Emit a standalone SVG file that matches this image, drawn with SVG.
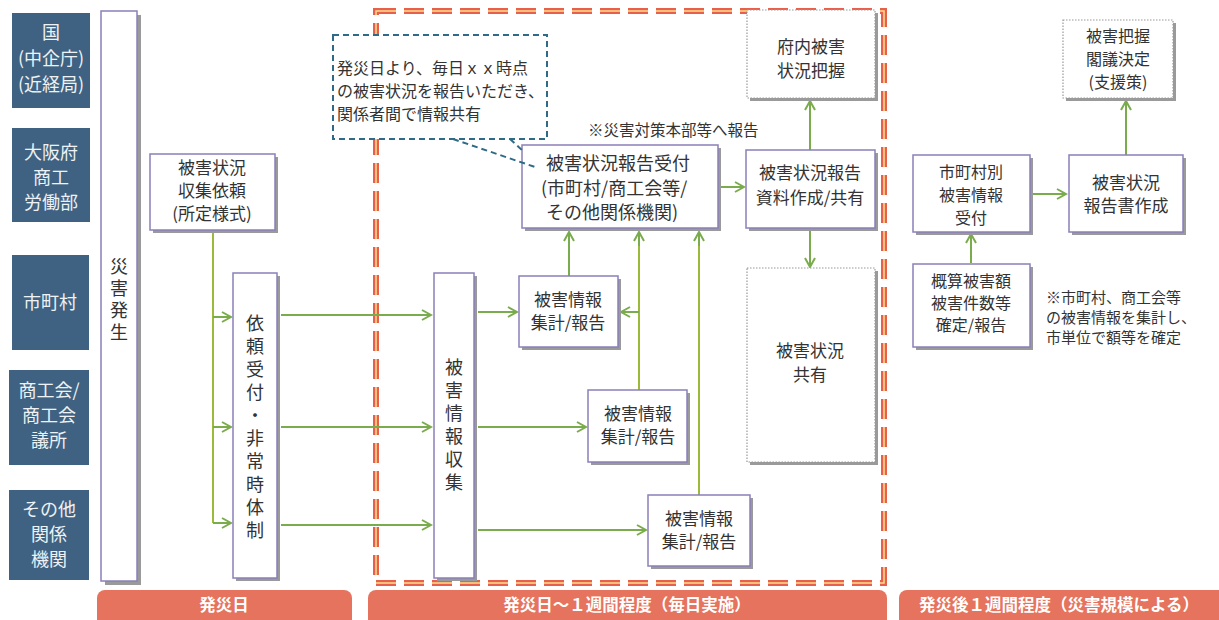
<svg xmlns="http://www.w3.org/2000/svg" width="1219" height="620" viewBox="0 0 1219 620">
<style>
text{font-family:"Noto Sans CJK JP","Noto Sans",sans-serif;fill:#333;}
.lab{fill:#3f6282;}
.labt{fill:#eef2f5;font-size:18px;text-anchor:middle;}
.sh{fill:#9a9a9a;}
.bx{fill:#fff;stroke:#8a80b8;stroke-width:1.5;}
.dot{fill:#fff;stroke:#999;stroke-width:1.2;stroke-dasharray:1.5 1.5;}
.t{font-size:17px;text-anchor:middle;}
.ts{font-size:16px;text-anchor:middle;}
.tl{font-size:17px;}
.v{font-size:18px;writing-mode:vertical-rl;text-orientation:upright;}
.ln{fill:none;stroke:#7aab4c;stroke-width:2;}
.ly{fill:none;stroke:#9cba3a;stroke-width:2;}
.bar{fill:#e5735d;}
.bt{fill:#fff;font-size:16.5px;font-weight:bold;text-anchor:middle;}
</style>
<defs>
<marker id="ah" markerWidth="12" markerHeight="12" refX="10" refY="6" orient="auto" markerUnits="userSpaceOnUse">
<path d="M1,1 L10,6 L1,11" fill="none" stroke="#7aab4c" stroke-width="2"/>
</marker>
</defs>

<!-- left labels -->
<g id="lab-kuni"><rect class="lab" x="12" y="13" width="78" height="95"/><text class="labt"><tspan x="51" y="39">国</tspan><tspan x="51" y="65">(中企庁)</tspan><tspan x="51" y="91">(近経局)</tspan></text></g>
<g id="lab-osaka"><rect class="lab" x="12" y="128" width="78" height="94"/><text class="labt"><tspan x="51" y="159">大阪府</tspan><tspan x="51" y="184">商工</tspan><tspan x="51" y="209">労働部</tspan></text></g>
<g id="lab-shichoson"><rect class="lab" x="12" y="255" width="77" height="95"/><text class="labt" x="50" y="309">市町村</text></g>
<g id="lab-shokokai"><rect class="lab" x="9" y="370" width="80" height="95"/><text class="labt"><tspan x="49" y="397">商工会/</tspan><tspan x="49" y="422">商工会</tspan><tspan x="49" y="447">議所</tspan></text></g>
<g id="lab-sonota"><rect class="lab" x="9" y="490" width="80" height="90"/><text class="labt"><tspan x="49" y="516">その他</tspan><tspan x="49" y="541">関係</tspan><tspan x="49" y="566">機関</tspan></text></g>

<!-- dashed period frame -->
<g id="frame">
<rect x="376" y="11" width="508" height="572" fill="none" stroke="#e8604c" stroke-width="6" stroke-dasharray="20 8"/>
<rect x="376" y="11" width="508" height="572" fill="none" stroke="#f6e08a" stroke-width="1.5" stroke-dasharray="20 8"/>
</g>

<!-- connectors -->
<g id="connectors">
<path class="ly" d="M213,230 V523"/>
<path class="ln" d="M213,317 H231" marker-end="url(#ah)"/>
<path class="ln" d="M213,427 H231" marker-end="url(#ah)"/>
<path class="ln" d="M213,523 H231" marker-end="url(#ah)"/>
<path class="ln" d="M281,315 H431" marker-end="url(#ah)"/>
<path class="ln" d="M281,427 H431" marker-end="url(#ah)"/>
<path class="ln" d="M281,525 H431" marker-end="url(#ah)"/>
<path class="ln" d="M478,312 H517" marker-end="url(#ah)"/>
<path class="ln" d="M478,427 H586" marker-end="url(#ah)"/>
<path class="ln" d="M478,530 H646" marker-end="url(#ah)"/>
<path class="ln" d="M569,276 V232" marker-end="url(#ah)"/>
<path class="ly" d="M639,390 V240"/>
<path class="ln" d="M639,246 V232" marker-end="url(#ah)"/>
<path class="ln" d="M639,312 H621" marker-end="url(#ah)"/>
<path class="ly" d="M699,495 V240"/>
<path class="ln" d="M699,246 V232" marker-end="url(#ah)"/>
<path class="ln" d="M721,187 H744" marker-end="url(#ah)"/>
<path class="ln" d="M810,150 V101" marker-end="url(#ah)"/>
<path class="ln" d="M810,231 V267" marker-end="url(#ah)"/>
<path class="ln" d="M1033,194 H1066" marker-end="url(#ah)"/>
<path class="ln" d="M1126,155 V101" marker-end="url(#ah)"/>
<path class="ln" d="M971,263 V234" marker-end="url(#ah)"/>
</g>

<!-- nodes -->
<g id="saigai-hassei"><rect class="sh" x="105" y="15" width="36" height="570"/><rect class="bx" x="101" y="11" width="36" height="570"/>
<text class="v" x="119" y="257" style="letter-spacing:4px">災害発生</text></g>

<g id="irai"><rect class="sh" x="153" y="157" width="125" height="76"/><rect class="bx" x="150" y="154" width="125" height="76"/>
<text class="t"><tspan x="212" y="174">被害状況</tspan><tspan x="212" y="197">収集依頼</tspan><tspan x="212" y="220">(所定様式)</tspan></text></g>

<g id="uketsuke"><rect class="sh" x="236" y="276" width="44" height="305"/><rect class="bx" x="233" y="273" width="44" height="305"/>
<text class="v" x="255" y="314" style="letter-spacing:5px">依頼受付・非常時体制</text></g>

<g id="shushu"><rect class="sh" x="437" y="276" width="40" height="305"/><rect class="bx" x="434" y="273" width="40" height="305"/>
<text class="v" x="454" y="358" style="letter-spacing:5px">被害情報収集</text></g>

<g id="shukei1"><rect class="sh" x="522" y="279" width="99" height="71"/><rect class="bx" x="519" y="276" width="99" height="71"/>
<text class="t"><tspan x="568" y="306">被害情報</tspan><tspan x="568" y="329">集計/報告</tspan></text></g>
<g id="shukei2"><rect class="sh" x="591" y="393" width="99" height="72"/><rect class="bx" x="588" y="390" width="99" height="72"/>
<text class="t"><tspan x="638" y="420">被害情報</tspan><tspan x="638" y="443">集計/報告</tspan></text></g>
<g id="shukei3"><rect class="sh" x="651" y="498" width="102" height="71"/><rect class="bx" x="648" y="495" width="102" height="71"/>
<text class="t"><tspan x="699" y="525">被害情報</tspan><tspan x="699" y="548">集計/報告</tspan></text></g>

<g id="hokoku-uketsuke"><rect class="sh" x="525" y="148" width="196" height="83"/><rect class="bx" x="522" y="145" width="196" height="83"/>
<text class="tl" style="font-size:18px"><tspan x="546" y="170">被害状況報告受付</tspan><tspan x="541" y="195">(市町村/商工会等/</tspan><tspan x="546" y="219">その他関係機関)</tspan></text></g>

<text id="note-honbu" x="588" y="136" style="font-size:15.5px">※災害対策本部等へ報告</text>

<g id="callout">
<rect x="333" y="35" width="214" height="104" fill="#fff" stroke="#2f6a86" stroke-width="2" stroke-dasharray="6 4"/>
<path d="M453,139 L535,167 M510,139 L524,152" fill="none" stroke="#2f6a86" stroke-width="2" stroke-dasharray="6 4"/>
<text style="font-size:16px"><tspan x="337" y="74">発災日より、毎日ｘｘ時点</tspan><tspan x="337" y="97">の被害状況を報告いただき、</tspan><tspan x="337" y="120">関係者間で情報共有</tspan></text>
</g>

<g id="shiryo"><rect class="sh" x="749" y="153" width="129" height="78"/><rect class="bx" x="746" y="150" width="129" height="78"/>
<text class="t"><tspan x="810" y="179">被害状況報告</tspan><tspan x="810" y="204">資料作成/共有</tspan></text></g>

<g id="funai"><rect class="sh" x="750" y="13" width="128" height="88"/><rect class="dot" x="747" y="10" width="128" height="88"/>
<text class="t"><tspan x="811" y="53">府内被害</tspan><tspan x="811" y="77">状況把握</tspan></text></g>

<g id="kyoyu"><rect class="sh" x="750" y="271" width="128" height="194"/><rect class="dot" x="747" y="268" width="128" height="194"/>
<text class="t"><tspan x="810" y="357">被害状況</tspan><tspan x="810" y="381">共有</tspan></text></g>

<g id="shichosonbetsu"><rect class="sh" x="916" y="158" width="117" height="77"/><rect class="bx" x="913" y="155" width="117" height="77"/>
<text class="ts"><tspan x="971" y="178">市町村別</tspan><tspan x="971" y="201">被害情報</tspan><tspan x="971" y="224">受付</tspan></text></g>

<g id="hokokusho"><rect class="sh" x="1072" y="158" width="114" height="77"/><rect class="bx" x="1069" y="155" width="114" height="77"/>
<text class="t"><tspan x="1126" y="189">被害状況</tspan><tspan x="1126" y="212">報告書作成</tspan></text></g>

<g id="kakugi"><rect class="sh" x="1066" y="23" width="110" height="78"/><rect class="dot" x="1063" y="20" width="110" height="78"/>
<text class="ts"><tspan x="1118" y="42">被害把握</tspan><tspan x="1118" y="65">閣議決定</tspan><tspan x="1118" y="88">(支援策)</tspan></text></g>

<g id="gaisan"><rect class="sh" x="916" y="267" width="117" height="83"/><rect class="bx" x="913" y="264" width="117" height="83"/>
<text class="ts"><tspan x="971" y="287">概算被害額</tspan><tspan x="971" y="309">被害件数等</tspan><tspan x="971" y="331">確定/報告</tspan></text></g>

<text id="note-right" style="font-size:15px"><tspan x="1046" y="303">※市町村、商工会等</tspan><tspan x="1046" y="323">の被害情報を集計し、</tspan><tspan x="1046" y="343">市単位で額等を確定</tspan></text>

<!-- bottom bars -->
<g id="bar1"><rect class="bar" x="97" y="590" width="255" height="40" rx="8"/><text class="bt" x="224" y="611">発災日</text></g>
<g id="bar2"><rect class="bar" x="368" y="590" width="519" height="40" rx="8"/><text class="bt" x="627" y="611">発災日～１週間程度（毎日実施）</text></g>
<g id="bar3"><rect class="bar" x="899" y="590" width="330" height="40" rx="8"/><text class="bt" x="1059" y="611">発災後１週間程度（災害規模による）</text></g>
</svg>
